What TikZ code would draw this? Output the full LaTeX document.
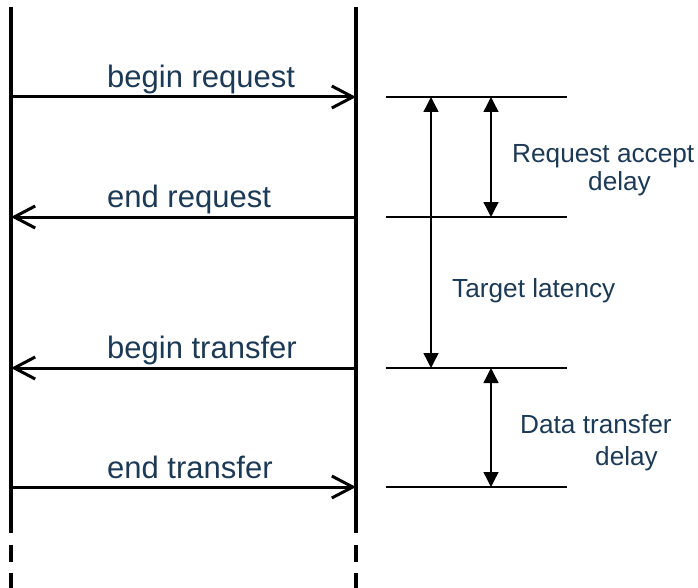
\documentclass[tikz,border=0pt]{standalone}
\usepackage{fontspec}
\setmainfont{Liberation Sans}
\usetikzlibrary{arrows.meta}
\definecolor{labelblue}{HTML}{1C3A55}
\tikzset{
  lifeline/.style={line width=4pt},
  lifedash/.style={line width=4pt, dash pattern=on 17pt off 11pt},
  message/.style={line width=3pt, -{Straight Barb[length=21pt,width=22pt]}},
  msglabel/.style={anchor=base west, inner sep=0pt, text=labelblue,
                   font=\fontsize{31}{37}\selectfont},
  tick/.style={line width=1.4pt},
  span/.style={line width=1.4pt, {Triangle[length=15pt,width=15pt]}-{Triangle[length=15pt,width=15pt]}},
  spanlabel/.style={anchor=base west, inner sep=0pt, text=labelblue,
                    font=\fontsize{26.2}{30}\selectfont},
}
\begin{document}
\begin{tikzpicture}[x=1pt, y=-1pt]
  \useasboundingbox (0,0) rectangle (698,588);

  % lifelines of initiator and target
  \coordinate (Ltop) at (11,7);
  \coordinate (Lsolid) at (11,533);
  \coordinate (Ldash) at (11,545);
  \coordinate (Lbot) at (11,588);
  \coordinate (Rtop) at (356,7);
  \coordinate (Rsolid) at (356,533);
  \coordinate (Rdash) at (356,545);
  \coordinate (Rbot) at (356,588);
  \draw[lifeline] (Ltop) -- (Lsolid);
  \draw[lifedash] (Ldash) -- (Lbot);
  \draw[lifeline] (Rtop) -- (Rsolid);
  \draw[lifedash] (Rdash) -- (Rbot);

  % message endpoints on the lifelines and timing marks
  \foreach \n/\y in {1/97, 2/217, 3/368, 4/487} {
    \coordinate (L\n) at (11,\y);
    \coordinate (R\n) at (356,\y);
    \coordinate (T\n) at (386,\y);
    \coordinate (U\n) at (567,\y);
  }

  % protocol phases
  \draw[message] (L1) -- (R1);
  \draw[message] (R2) -- (L2);
  \draw[message] (R3) -- (L3);
  \draw[message] (L4) -- (R4);
  \node[msglabel] (beginreq) at (107,88)  {begin request};
  \node[msglabel] (endreq)   at (107,207) {end request};
  \node[msglabel] (begintr)  at (107,358) {begin transfer};
  \node[msglabel] (endtr)    at (107,478) {end transfer};

  % timing marks
  \foreach \n in {1,...,4} { \draw[tick] (T\n) -- (U\n); }

  \coordinate (lat1) at (431,97);
  \coordinate (lat2) at (431,368);
  \coordinate (acc1) at (491,97);
  \coordinate (acc2) at (491,217);
  \coordinate (dat1) at (491,368);
  \coordinate (dat2) at (491,487);
  \draw[span] (lat1) -- (lat2);
  \draw[span] (acc1) -- (acc2);
  \draw[span] (dat1) -- (dat2);

  \node[spanlabel] (acclabA) at (512,163) {Request accept};
  \node[spanlabel] (acclabB) at (588,190) {delay};
  \node[spanlabel] (latlab)  at (452,297) {Target latency};
  \node[spanlabel] (datlabA) at (520,433) {Data transfer};
  \node[spanlabel] (datlabB) at (595,465) {delay};
\end{tikzpicture}
\end{document}
